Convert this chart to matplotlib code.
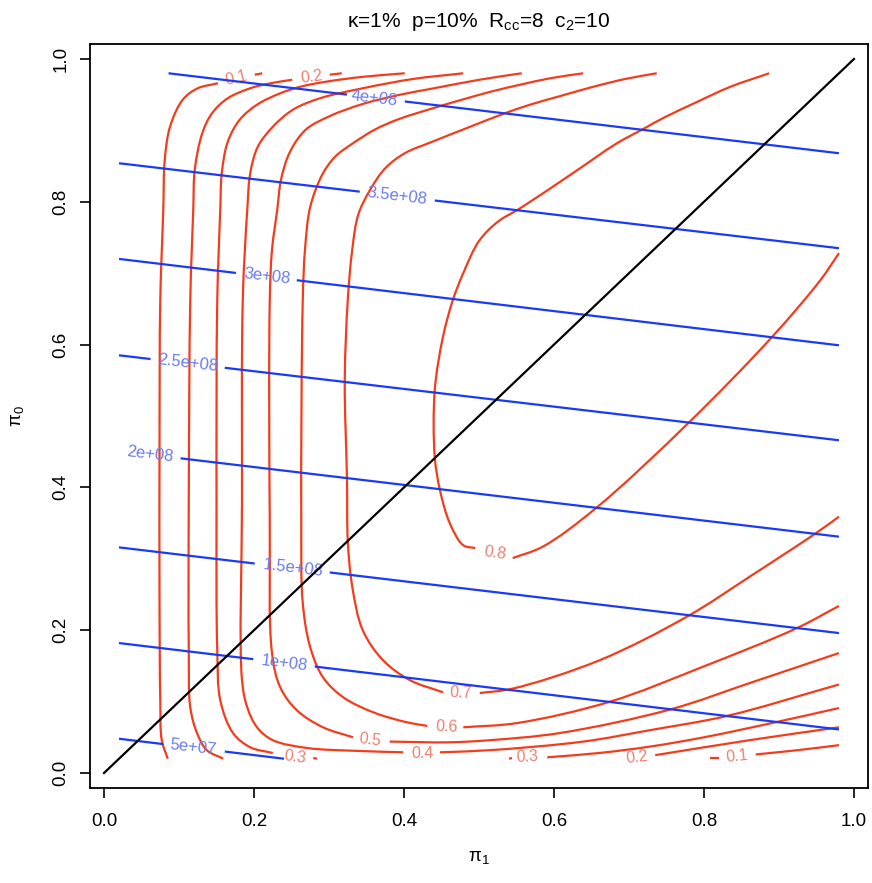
import numpy as np
import matplotlib
matplotlib.use('Agg')
import matplotlib.pyplot as plt
from matplotlib.path import Path
from matplotlib.patches import PathPatch

plt.rcParams['font.family'] = ['Liberation Sans', 'DejaVu Sans']
plt.rcParams['mathtext.fontset'] = 'custom'
plt.rcParams['mathtext.rm'] = 'Liberation Sans'
plt.rcParams['mathtext.it'] = 'Liberation Sans:italic'
plt.rcParams['mathtext.default'] = 'regular'

# ---- red contours (pi1, pi0), split where the level label sits ----
c01_up = [(0.085, 0.020), (0.077, 0.046), (0.075, 0.102), (0.074, 0.242), (0.074, 0.452),
          (0.075, 0.662), (0.079, 0.789), (0.081, 0.859), (0.088, 0.905), (0.105, 0.943),
          (0.125, 0.959), (0.152, 0.966)]
c01_up_end = [(0.201, 0.978), (0.211, 0.980)]
c01_low_start = [(0.808, 0.021), (0.820, 0.021)]
c01_low = [(0.869, 0.026), (0.925, 0.032), (0.980, 0.039)]

c02_up = [(0.159, 0.020), (0.137, 0.032), (0.124, 0.056), (0.115, 0.092), (0.113, 0.172),
          (0.113, 0.382), (0.115, 0.662), (0.119, 0.789), (0.121, 0.845), (0.131, 0.896),
          (0.144, 0.924), (0.165, 0.945), (0.195, 0.959), (0.217, 0.965), (0.251, 0.971)]
c02_up_end = [(0.301, 0.978), (0.317, 0.980)]
c02_low = [(0.735, 0.025), (0.861, 0.046), (0.980, 0.064)]

c03_up = [(0.401, 0.980), (0.345, 0.975), (0.301, 0.969), (0.265, 0.962), (0.235, 0.952),
          (0.204, 0.936), (0.181, 0.915), (0.165, 0.884), (0.157, 0.840), (0.155, 0.789),
          (0.151, 0.662), (0.150, 0.382), (0.151, 0.172), (0.155, 0.102), (0.172, 0.056),
          (0.195, 0.036), (0.225, 0.028)]
c03_up_end = [(0.279, 0.021), (0.284, 0.020)]
c03_low_start = [(0.540, 0.020), (0.544, 0.021)]
c03_low = [(0.591, 0.022), (0.660, 0.028), (0.728, 0.037), (0.800, 0.050), (0.895, 0.071),
           (0.980, 0.091)]

c04_a = [(0.479, 0.980), (0.412, 0.972), (0.345, 0.959), (0.288, 0.945),
         (0.252, 0.929), (0.225, 0.905), (0.205, 0.877), (0.195, 0.840), (0.191, 0.789),
         (0.185, 0.662), (0.184, 0.382), (0.184, 0.130), (0.191, 0.092), (0.204, 0.064),
         (0.225, 0.046), (0.271, 0.035), (0.337, 0.031), (0.399, 0.029)]
c04_b = [(0.448, 0.029), (0.515, 0.032), (0.639, 0.044), (0.728, 0.060), (0.831, 0.080),
         (0.980, 0.124)]

c05_a = [(0.557, 0.980), (0.501, 0.971), (0.435, 0.958), (0.395, 0.950), (0.345, 0.937),
         (0.301, 0.920), (0.269, 0.901), (0.248, 0.870), (0.236, 0.831), (0.231, 0.789),
         (0.224, 0.733), (0.221, 0.662), (0.221, 0.354), (0.224, 0.168), (0.235, 0.120),
         (0.257, 0.088), (0.292, 0.064), (0.332, 0.050)]
c05_b = [(0.381, 0.044), (0.461, 0.043), (0.515, 0.046), (0.608, 0.056), (0.755, 0.089),
         (0.861, 0.126), (0.980, 0.168)]

c06_a = [(0.639, 0.980), (0.595, 0.973), (0.555, 0.964), (0.515, 0.954), (0.448, 0.934),
         (0.391, 0.915), (0.361, 0.901), (0.332, 0.882), (0.308, 0.863), (0.291, 0.838),
         (0.275, 0.793), (0.268, 0.733), (0.265, 0.662), (0.263, 0.354), (0.265, 0.238),
         (0.275, 0.176), (0.292, 0.134), (0.319, 0.106), (0.359, 0.085), (0.404, 0.071),
         (0.431, 0.066)]
c06_b = [(0.479, 0.064), (0.551, 0.070), (0.675, 0.100), (0.799, 0.149), (0.924, 0.203),
         (0.980, 0.234)]

c07_a = [(0.737, 0.980), (0.695, 0.972), (0.652, 0.961), (0.608, 0.948), (0.568, 0.936),
         (0.532, 0.923), (0.488, 0.905), (0.435, 0.883), (0.401, 0.868), (0.375, 0.847),
         (0.355, 0.817), (0.339, 0.782), (0.331, 0.733), (0.325, 0.662), (0.321, 0.550),
         (0.324, 0.410), (0.325, 0.326), (0.331, 0.261), (0.345, 0.200), (0.372, 0.158),
         (0.408, 0.130), (0.452, 0.113)]
c07_b = [(0.501, 0.112), (0.544, 0.118), (0.661, 0.158), (0.779, 0.220), (0.861, 0.275),
         (0.948, 0.335), (0.980, 0.359)]

c08_a = [(0.887, 0.980), (0.835, 0.961), (0.791, 0.940), (0.745, 0.917), (0.719, 0.902),
         (0.684, 0.882), (0.625, 0.840), (0.555, 0.791), (0.525, 0.772), (0.500, 0.745),
         (0.479, 0.700), (0.465, 0.662), (0.452, 0.611), (0.441, 0.536), (0.441, 0.443),
         (0.448, 0.396), (0.461, 0.350), (0.479, 0.319), (0.495, 0.315)]
c08_b = [(0.545, 0.301), (0.585, 0.317), (0.656, 0.371), (0.779, 0.490), (0.891, 0.611),
         (0.955, 0.690), (0.980, 0.728)]

red_pieces = [c01_up, c01_up_end, c01_low_start, c01_low,
              c02_up, c02_up_end, c02_low,
              c03_up, c03_up_end, c03_low_start, c03_low,
              c04_a, c04_b, c05_a, c05_b, c06_a, c06_b, c07_a, c07_b, c08_a, c08_b]

# label text, pi1, pi0, angle on screen
red_labels = [('0.1', 0.176, 0.973, 13), ('0.2', 0.277, 0.975, 8), ('0.3', 0.255, 0.022, -8),
              ('0.4', 0.425, 0.028, 0), ('0.5', 0.355, 0.046, -7), ('0.6', 0.457, 0.064, -2),
              ('0.7', 0.475, 0.112, -2), ('0.8', 0.521, 0.308, -8), ('0.3', 0.565, 0.022, 3),
              ('0.2', 0.711, 0.022, 6), ('0.1', 0.844, 0.023, 6)]

# ---- blue contours: straight lines ----
blue_levels = ['5e+07', '1e+08', '1.5e+08', '2e+08', '2.5e+08', '3e+08', '3.5e+08', '4e+08']
blue_x0 = [0.020, 0.020, 0.020, 0.020, 0.020, 0.020, 0.020, 0.086]
blue_y0 = [0.048, 0.182, 0.316, 0.451, 0.585, 0.720, 0.854, 0.980]
blue_x1 = [0.240, 0.980, 0.980, 0.980, 0.980, 0.980, 0.980, 0.980]
blue_y1 = [0.020, 0.061, 0.196, 0.331, 0.466, 0.599, 0.735, 0.868]
blue_label_x = [0.119, 0.241, 0.252, 0.061, 0.112, 0.217, 0.390, 0.361]
blue_gap_lo = [0.079, 0.199, 0.201, 0.020, 0.062, 0.176, 0.341, 0.324]
blue_gap_hi = [0.161, 0.281, 0.301, 0.102, 0.161, 0.257, 0.441, 0.401]

diag_x = [0.0, 1.0]
diag_y = [0.0, 1.0]

ticks = [0.0, 0.2, 0.4, 0.6, 0.8, 1.0]
tick_labels = ['0.0', '0.2', '0.4', '0.6', '0.8', '1.0']

red = '#F43C1C'
red_txt = '#EE8070'
blue = '#1A3AF5'
blue_txt = '#6A7CEE'


def smooth_path(pts):
    # centripetal Catmull-Rom through the read points, drawn as cubic Bezier pieces
    p = np.asarray(pts, dtype=float)
    if len(p) < 3:
        return Path(p)
    ext = np.vstack([2 * p[0] - p[1], p, 2 * p[-1] - p[-2]])
    verts = [p[0]]
    codes = [Path.MOVETO]
    for i in range(1, len(ext) - 2):
        p0, p1, p2, p3 = ext[i - 1], ext[i], ext[i + 1], ext[i + 2]
        d0 = np.linalg.norm(p1 - p0) ** 0.5
        d1 = np.linalg.norm(p2 - p1) ** 0.5
        d2 = np.linalg.norm(p3 - p2) ** 0.5
        m1 = ((p1 - p0) / d0 - (p2 - p0) / (d0 + d1) + (p2 - p1) / d1) * d1
        m2 = ((p2 - p1) / d1 - (p3 - p1) / (d1 + d2) + (p3 - p2) / d2) * d1
        verts += [p1 + m1 / 3.0, p2 - m2 / 3.0, p2]
        codes += [Path.CURVE4] * 3
    return Path(verts, codes)


fig = plt.figure(figsize=(8.72, 8.83), dpi=100)
ax = fig.add_axes([90 / 872, 95 / 883, 778 / 872, 744 / 883])
ax.set_xlim(-0.0187, 1.0187)
ax.set_ylim(-0.021, 1.021)

for piece in red_pieces:
    ax.add_patch(PathPatch(smooth_path(piece), fill=False, edgecolor=red, lw=1.6,
                           capstyle='butt', zorder=2))
for txt, x, y, rot in red_labels:
    ax.text(x, y, txt, color=red_txt, fontsize=11.5, ha='center', va='center',
            rotation=rot, rotation_mode='anchor', zorder=3)

for i, lev in enumerate(blue_levels):
    x0, y0, x1, y1 = blue_x0[i], blue_y0[i], blue_x1[i], blue_y1[i]
    slope = (y1 - y0) / (x1 - x0)
    f = lambda x: y0 + slope * (x - x0)
    lo, hi = blue_gap_lo[i], blue_gap_hi[i]
    if lo > x0:
        ax.plot([x0, lo], [y0, f(lo)], color=blue, lw=1.6, solid_capstyle='butt', zorder=4)
    ax.plot([hi, x1], [f(hi), y1], color=blue, lw=1.6, solid_capstyle='butt', zorder=4)
    a = ax.transData.transform((x0, y0))
    b = ax.transData.transform((x1, y1))
    ang = np.degrees(np.arctan2(b[1] - a[1], b[0] - a[0]))
    lx = blue_label_x[i]
    ax.text(lx, f(lx), lev, color=blue_txt, fontsize=12, ha='center', va='center',
            rotation=ang, rotation_mode='anchor', zorder=5)

ax.plot(diag_x, diag_y, color='black', lw=1.6, zorder=6)

ax.set_xticks(ticks)
ax.set_xticklabels(tick_labels)
ax.set_yticks(ticks)
ax.set_yticklabels(tick_labels, rotation=90, va='center')
ax.tick_params(direction='out', length=7, width=1.2, labelsize=13.5, colors='black')
ax.tick_params(axis='x', pad=11)
ax.tick_params(axis='y', pad=8)
for s in ax.spines.values():
    s.set_linewidth(1.3)

ax.set_xlabel('π$_1$', fontsize=13.5, va='center')
ax.xaxis.set_label_coords(0.5, (788 - 858) / 744)
ax.set_ylabel('π$_0$', fontsize=13.5, va='center')
ax.yaxis.set_label_coords((17 - 90) / 778, 0.5)

fig.text(479 / 872, 1 - 22 / 883, 'κ=1%  p=10%  R$_{cc}$=8  c$_2$=10', fontsize=15,
         ha='center', va='center')

fig.savefig('out.png', dpi=100)
